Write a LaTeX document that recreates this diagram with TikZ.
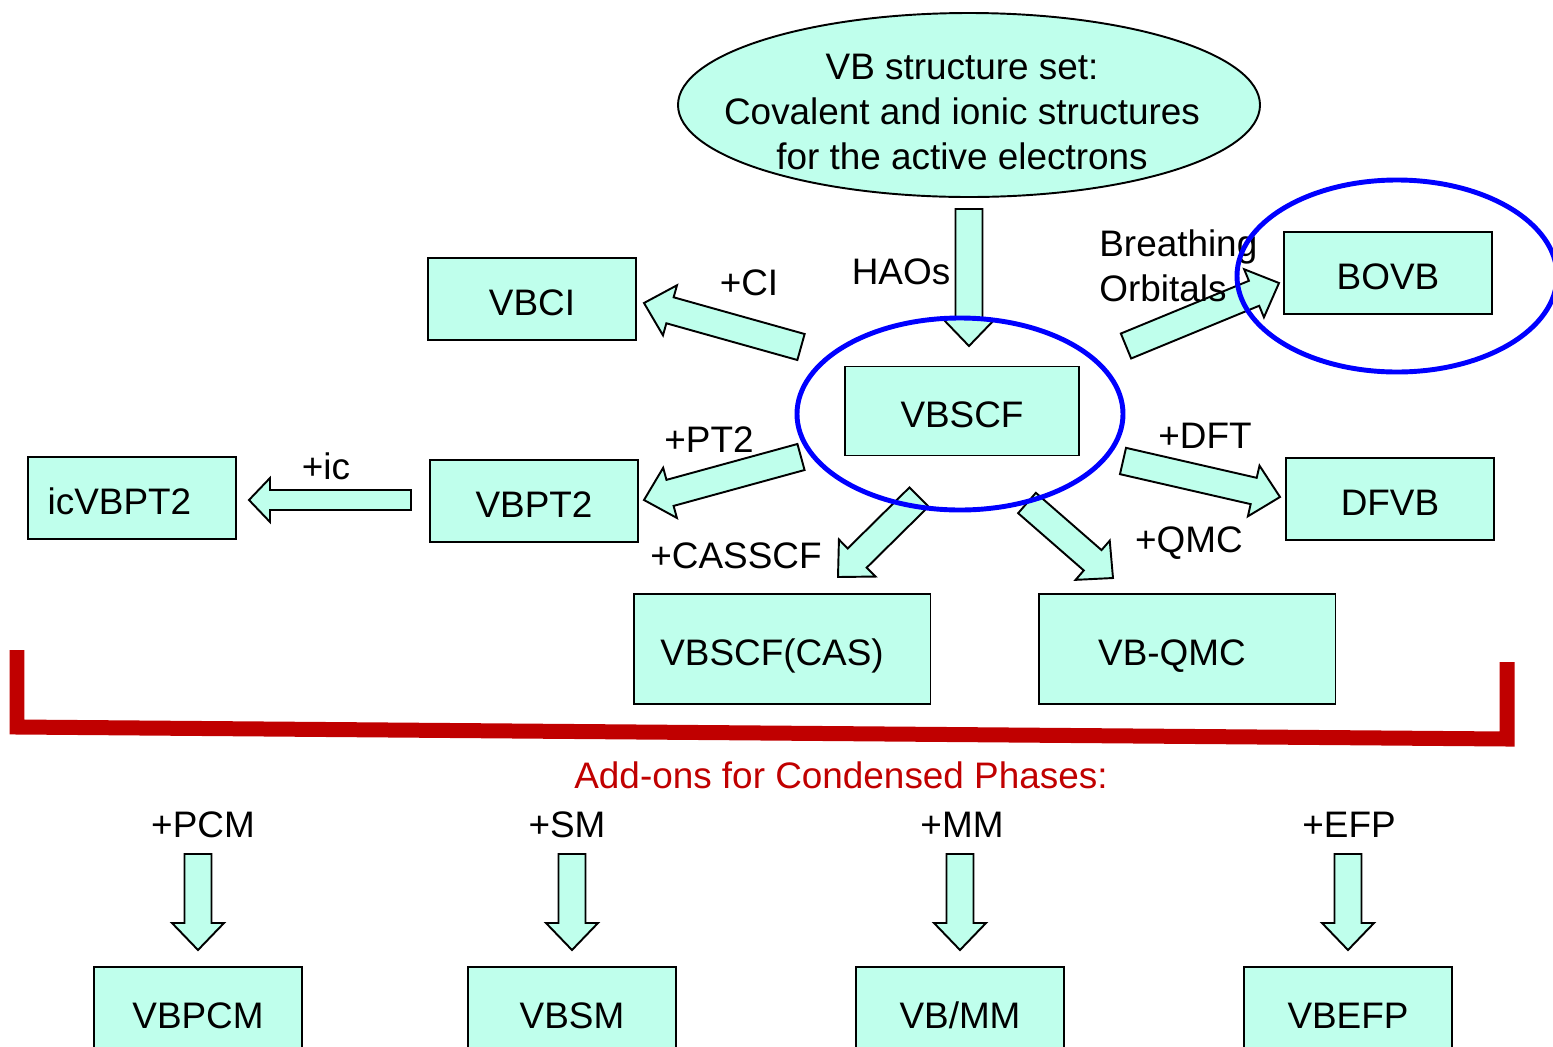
\documentclass[tikz,border=0pt]{standalone}
\usepackage{fontspec}
\setmainfont{Liberation Sans}
\usepackage{tikz}
\usetikzlibrary{calc}

\definecolor{mint}{RGB}{191,255,236}
\definecolor{addonred}{RGB}{192,0,0}

\newcommand{\labelfont}{\fontsize{21}{25.5}\selectfont}

% sizes of the fat arrows
\newcommand{\arrshaft}{0.27cm}
\newcommand{\arrhead}{0.52cm}
\newcommand{\arrtip}{0.54cm}

% fat outlined arrow from #1 (tail) to #2 (tip)
\newcommand{\fatarrow}[2]{%
	\coordinate (hb) at ($(#2)!\arrtip!(#1)$);
	\draw[fatline] ($(#1)!\arrshaft!90:(#2)$) -- ($(hb)!\arrshaft!90:(#2)$) -- ($(hb)!\arrhead!90:(#2)$) -- (#2)
		-- ($(hb)!\arrhead!-90:(#2)$) -- ($(hb)!\arrshaft!-90:(#2)$) -- ($(#1)!\arrshaft!-90:(#2)$) -- cycle;
}

\tikzset{
	method/.style={draw, fill=mint, line width=1.1pt, minimum width=4.16cm, minimum height=1.64cm, inner sep=0pt, text height=18.5pt, text depth=0pt},
	fatline/.style={draw, fill=mint, line width=1.1pt, line join=miter},
	ring/.style={draw=blue, line width=2.8pt},
	bracket/.style={draw=addonred, line width=0.3cm, line join=miter},
}

\begin{document}
\begin{tikzpicture}[x=0.02cm, y=-0.02cm, every node/.append style={font=\labelfont}]
	\useasboundingbox (0,0) rectangle (1553,1046);
	\clip (0,0) rectangle (1553,1046);
	
	% Define coordinates
	\coordinate (top) at (969,105);
	\coordinate (haos-t) at (969,209);
	\coordinate (haos-h) at (969,346);
	\coordinate (ci-t) at (801,347);
	\coordinate (ci-h) at (644,303);
	\coordinate (pt2-t) at (801,457);
	\coordinate (pt2-h) at (644,500);
	\coordinate (cas-t) at (919,497);
	\coordinate (cas-h) at (838,577);
	\coordinate (qmc-t) at (1027,503);
	\coordinate (qmc-h) at (1113,578);
	\coordinate (bo-t) at (1126,346);
	\coordinate (bo-h) at (1279,283);
	\coordinate (dft-t) at (1123,461);
	\coordinate (dft-h) at (1280,497);
	\coordinate (ic-t) at (411,500);
	\coordinate (ic-h) at (249,500);
	
	% VB structure set
	\draw[fatline] (top) ellipse [x radius=291, y radius=92];
	\node[align=center] (vbset) at (962,112) {VB structure set:\\Covalent and ionic structures\\for the active electrons};
	
	% Methods
	\node[method, minimum width=4.68cm, minimum height=1.78cm] (vbscf) at (962,411) {VBSCF};
	\node[method] (vbci) at (532,299) {VBCI};
	\node[method] (bovb) at (1388,273) {BOVB};
	\node[method] (icvbpt2) at (132,498) {\hspace*{-0.5cm}icVBPT2};
	\node[method] (vbpt2) at (534,501) {VBPT2};
	\node[method] (dfvb) at (1390,499) {DFVB};
	\node[method, minimum width=5.94cm, minimum height=2.2cm] (vbcas) at (782,649) {\hspace*{-0.4cm}VBSCF(CAS)};
	\node[method, minimum width=5.94cm, minimum height=2.2cm] (vbqmc) at (1187,649) {\hspace*{-0.6cm}VB-QMC};
	
	% Arrows out of VBSCF
	\fatarrow{haos-t}{haos-h}
	\fatarrow{ci-t}{ci-h}
	\fatarrow{pt2-t}{pt2-h}
	\fatarrow{cas-t}{cas-h}
	\fatarrow{qmc-t}{qmc-h}
	\fatarrow{bo-t}{bo-h}
	\fatarrow{dft-t}{dft-h}
	{\renewcommand{\arrshaft}{0.2cm}\renewcommand{\arrhead}{0.44cm}\renewcommand{\arrtip}{0.42cm}
	\fatarrow{ic-t}{ic-h}}
	
	\node (haos) at (901,272) {HAOs};
	\node (ci) at (749,283) {+CI};
	\node (pt2) at (709,440) {+PT2};
	\node (ic) at (326,466) {+ic};
	\node (casscf) at (736,556) {+CASSCF};
	\node (qmc) at (1189,543) {+QMC};
	\node (dft) at (1205,436) {+DFT};
	\node[align=left, anchor=west, inner sep=0pt] (bo) at (1099,266) {Breathing\\Orbitals};
	
	% Highlight rings
	\draw[ring] (960,414) ellipse [x radius=163, y radius=96];
	\draw[ring] (1397,276) ellipse [x radius=160, y radius=96];
	
	% Condensed phase add-ons
	\draw[bracket] (17,650) -- (17,727) -- (1507,739) -- (1507,662);
	\node[text=addonred] (addons) at (841,775) {Add-ons for Condensed Phases:};
	
	\foreach \name/\lbl/\meth/\x/\lx in {pcm/+PCM/VBPCM/198/203, sm/+SM/VBSM/572/567, mm/+MM/VB\slash MM/960/962, efp/+EFP/VBEFP/1348/1349} {
		\node (\name) at (\lx,825) {\lbl};
		\coordinate (\name-t) at (\x,854);
		\coordinate (\name-h) at (\x,950);
		\fatarrow{\name-t}{\name-h}
		\node[method, minimum height=1.8cm, anchor=north] (vb\name) at (\x,966) {\meth};
	}
\end{tikzpicture}
\end{document}
